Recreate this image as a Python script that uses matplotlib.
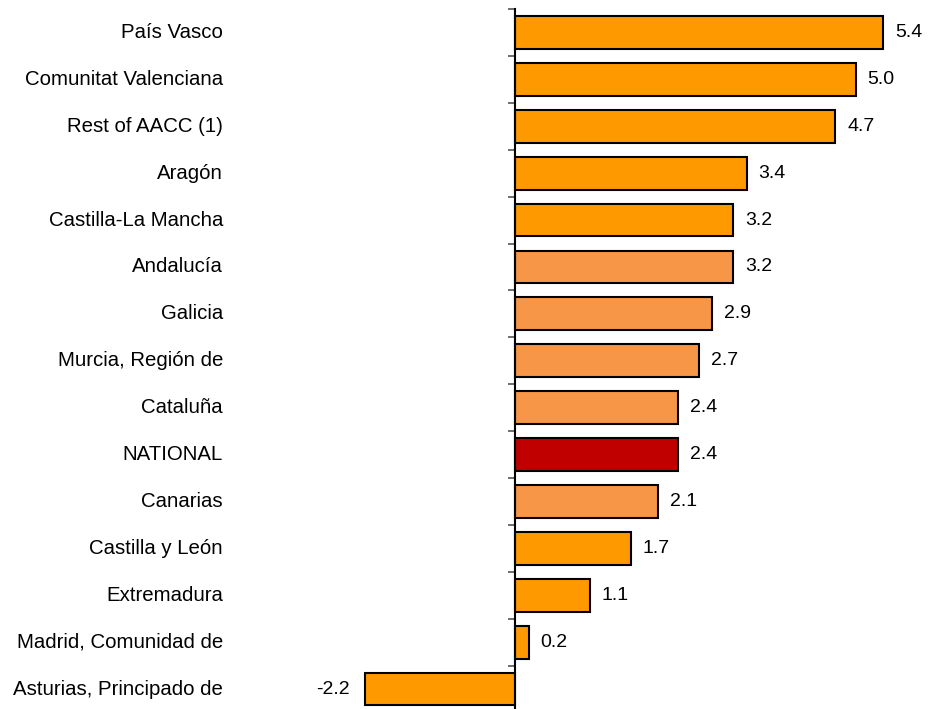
import matplotlib.pyplot as plt
from matplotlib import transforms

plt.rcParams['font.family'] = ['Liberation Sans', 'DejaVu Sans']

# Data (top to bottom)
regions = ["País Vasco", "Comunitat Valenciana", "Rest of AACC (1)", "Aragón",
           "Castilla-La Mancha", "Andalucía", "Galicia", "Murcia, Región de",
           "Cataluña", "NATIONAL", "Canarias", "Castilla y León", "Extremadura",
           "Madrid, Comunidad de", "Asturias, Principado de"]
values = [5.4, 5.0, 4.7, 3.4, 3.2, 3.2, 2.9, 2.7, 2.4, 2.4, 2.1, 1.7, 1.1, 0.2, -2.2]
groups = ["a", "a", "a", "a", "a", "b", "b", "b", "b", "n", "b", "a", "a", "a", "a"]

group_colors = {"a": "#FF9900", "b": "#F79646", "n": "#C00000"}
colors = [group_colors[g] for g in groups]

W, H = 929, 709
fig = plt.figure(figsize=(W / 100, H / 100), dpi=100)

px_per_unit = 68.1
zero_px = 515
left_px, right_px = 279, 915
top_px = 9
row_px = 46.9
n = len(regions)
ax = fig.add_axes([left_px / W, 1 - (top_px + n * row_px) / H,
                   (right_px - left_px) / W, n * row_px / H])

ypos = list(range(n))
ax.barh(ypos, values, height=0.7, color=colors, edgecolor="black", linewidth=1.5)
ax.set_xlim((left_px - zero_px) / px_per_unit, (right_px - zero_px) / px_per_unit)
ax.set_ylim(n - 0.5, -0.5)

for s in ["top", "right", "bottom"]:
    ax.spines[s].set_visible(False)
ax.spines["left"].set_position(("data", 0))
ax.spines["left"].set_linewidth(1.5)
ax.set_xticks([])
ax.set_yticks([i - 0.5 for i in range(n + 1)])
ax.set_yticklabels([])
ax.tick_params(axis="y", direction="out", length=5, width=1.2, color="#555555")

# value labels
for y, v in zip(ypos, values):
    if v >= 0:
        ax.text(v + 12 / px_per_unit, y, f"{v:.1f}", va="center", ha="left", fontsize=14)
    else:
        ax.text(v - 15 / px_per_unit, y, f"{v:.1f}", va="center", ha="right", fontsize=14)

# category labels
trans = transforms.blended_transform_factory(fig.transFigure, ax.transData)
for y, name in zip(ypos, regions):
    ax.text(223 / W, y, name, transform=trans, va="center", ha="right", fontsize=14.7)

fig.savefig("out.png", dpi=100)
